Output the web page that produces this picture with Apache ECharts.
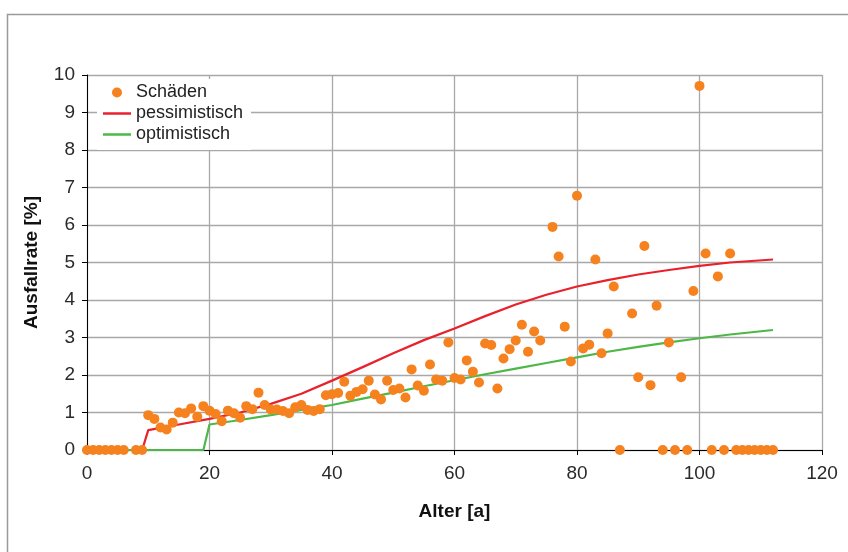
<!DOCTYPE html>
<html>
<head>
<meta charset="utf-8">
<script src="https://cdn.jsdelivr.net/npm/echarts@6/dist/echarts.min.js"></script>
<style>
html,body{margin:0;padding:0;background:#fff;}
#chart{width:848px;height:552px;}
</style>
</head>
<body>
<div id="chart"></div>
<script>
// Schäden (scatter): age in years, failure rate in %; null = no point
var schaedenAlter = [0,1,2,3,4,5,6,7,8,9,10,11,12,13,14,15,16,17,18,19,20,21,22,23,24,25,26,27,28,29,30,31,32,33,34,35,36,37,38,39,40,41,42,43,44,45,46,47,48,49,50,51,52,53,54,55,56,57,58,59,60,61,62,63,64,65,66,67,68,69,70,71,72,73,74,75,76,77,78,79,80,81,82,83,84,85,86,87,88,89,90,91,92,93,94,95,96,97,98,99,100,101,102,103,104,105,106,107,108,109,110,111,112];
var schaedenWert = [0,0,0,0,0,0,0,null,0,0,
  0.93,0.83,0.60,0.55,0.73,1.00,0.98,1.11,0.89,1.17,
  1.05,0.96,0.77,1.05,0.98,0.86,1.17,1.09,1.53,1.20,
  1.08,1.08,1.04,0.98,1.14,1.20,1.07,1.04,1.09,1.46,
  1.49,1.52,1.82,1.45,1.55,1.62,1.85,1.48,1.35,1.85,
  1.60,1.64,1.40,2.15,1.72,1.58,2.28,1.88,1.85,2.87,
  1.92,1.88,2.39,2.09,1.80,2.84,2.80,1.64,2.44,2.69,
  2.92,3.34,2.62,3.16,2.92,null,5.95,5.16,3.29,2.36,
  6.78,2.71,2.81,5.08,2.58,3.11,4.36,0,null,3.64,
  1.94,5.44,1.73,3.85,0,2.87,0,1.94,0,4.24,
  9.71,5.24,0,4.63,0,5.24,0,0,0,0,
  0,0,0];

// pessimistisch curve
var pessAlter = [0,9,10,15,20,25,30,35,40,45,50,55,60,65,70,75,80,85,90,95,100,105,112];
var pessWert  = [0,0,0.53,0.68,0.83,1.00,1.23,1.50,1.85,2.21,2.58,2.93,3.24,3.57,3.88,4.14,4.36,4.53,4.68,4.80,4.91,5.00,5.08];

// optimistisch curve
var optAlter = [0,19,20,25,30,35,40,45,50,55,60,65,70,75,80,85,90,95,100,105,112];
var optWert  = [0,0,0.68,0.80,0.93,1.07,1.20,1.37,1.53,1.70,1.86,2.02,2.17,2.32,2.47,2.62,2.75,2.87,2.98,3.08,3.20];

var xTicks = [0,20,40,60,80,100,120];
var yTicks = [0,1,2,3,4,5,6,7,8,9,10];

function pairs(xs, ys){
  var out = [];
  for (var i = 0; i < xs.length; i++) {
    if (ys[i] !== null && ys[i] !== undefined) out.push([xs[i], ys[i]]);
  }
  return out;
}

var ORANGE = '#F5821F', RED = '#E8212B', GREEN = '#4DB847';
var FONT = '"Liberation Sans", Arial, sans-serif';
var LINE_ICON = 'path://M0,0 L28,0 L28,2.5 L0,2.5 Z';
var chart = echarts.init(document.getElementById('chart'), null, {renderer: 'canvas'});
chart.setOption({
  animation: false,
  backgroundColor: '#ffffff',
  textStyle: {fontFamily: FONT},
  graphic: [{
    type: 'rect', left: 5, top: 12, silent: true, z: -10,
    shape: {x: 0, y: 0, width: 900, height: 600},
    style: {fill: 'none', stroke: '#9a9a9a', lineWidth: 1.5}
  }],
  grid: {left: 87, right: 26, top: 75, bottom: 102, containLabel: false},
  legend: {
    orient: 'vertical', left: 97, top: 79,
    backgroundColor: '#ffffff', padding: [4, 8, 6, 6],
    itemWidth: 28, itemHeight: 10, itemGap: 2, symbolKeepAspect: true,
    textStyle: {fontFamily: FONT, fontSize: 18, color: '#222', lineHeight: 19},
    data: [
      {name: 'Schäden', icon: 'circle', itemStyle: {color: ORANGE}},
      {name: 'pessimistisch', icon: LINE_ICON, itemStyle: {color: RED, borderWidth: 0}},
      {name: 'optimistisch', icon: LINE_ICON, itemStyle: {color: GREEN, borderWidth: 0}}
    ]
  },
  xAxis: {
    type: 'value', min: xTicks[0], max: xTicks[xTicks.length - 1], interval: 20,
    name: 'Alter [a]', nameLocation: 'middle', nameGap: 52,
    nameTextStyle: {fontFamily: FONT, fontSize: 19, fontWeight: 'bold', color: '#111'},
    axisLine: {show: true, onZero: false, lineStyle: {color: '#000', width: 1}},
    axisTick: {show: true, length: 5, lineStyle: {color: '#000', width: 1}},
    axisLabel: {fontFamily: FONT, fontSize: 19, color: '#2a2a2a', margin: 14},
    splitLine: {show: true, lineStyle: {color: '#a8a8a8', width: 1.3}}
  },
  yAxis: {
    type: 'value', min: yTicks[0], max: yTicks[yTicks.length - 1], interval: 1,
    name: 'Ausfallrate [%]', nameLocation: 'middle', nameGap: 46, nameRotate: 90,
    nameTextStyle: {fontFamily: FONT, fontSize: 19, fontWeight: 'bold', color: '#111'},
    axisLine: {show: true, onZero: false, lineStyle: {color: '#000', width: 1}},
    axisTick: {show: true, length: 5, lineStyle: {color: '#000', width: 1}},
    axisLabel: {fontFamily: FONT, fontSize: 19, color: '#2a2a2a', margin: 12},
    splitLine: {show: true, lineStyle: {color: '#a8a8a8', width: 1.3}}
  },
  series: [
    {
      name: 'Schäden', type: 'scatter', z: 4, clip: false,
      symbol: 'circle', symbolSize: 10,
      itemStyle: {color: ORANGE, opacity: 1},
      data: pairs(schaedenAlter, schaedenWert)
    },
    {
      name: 'pessimistisch', type: 'line', z: 2, symbol: 'none', smooth: false,
      lineStyle: {color: RED, width: 2.2},
      itemStyle: {color: RED},
      data: pairs(pessAlter, pessWert)
    },
    {
      name: 'optimistisch', type: 'line', z: 3, symbol: 'none', smooth: false,
      lineStyle: {color: GREEN, width: 2.2},
      itemStyle: {color: GREEN},
      data: pairs(optAlter, optWert)
    }
  ]
});
</script>
</body>
</html>
